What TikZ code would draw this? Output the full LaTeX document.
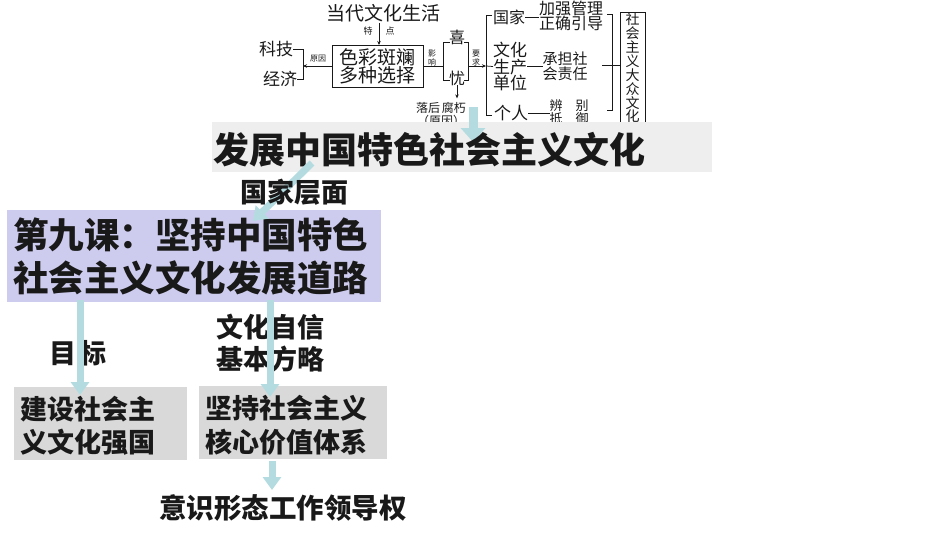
\documentclass[tikz,border=0pt]{standalone}
\usepackage{fontspec}
\newfontfamily\cjk{Noto Sans CJK SC}
\usetikzlibrary{arrows.meta,calc}
\definecolor{arrowc}{RGB}{180,220,224}
\definecolor{lav}{RGB}{206,204,238}
\definecolor{bang}{RGB}{238,238,238}
\definecolor{boxg}{RGB}{217,217,217}
\definecolor{ink}{RGB}{25,25,25}
\begin{document}
\begin{tikzpicture}[x=1pt,y=-1pt,
  every node/.style={inner sep=0pt,outer sep=0pt,text=ink},
  ln/.style={draw=ink,line width=0.75pt},
  lnarrow/.style={ln,-{Stealth[length=4pt,width=3.5pt]}},
  tf/.style={font=\cjk\fontsize{#1}{#1}\selectfont},
  bt/.style={font=\cjk\bfseries\fontsize{#1}{#1}\selectfont},
  carrow/.style={draw=arrowc,line width=7pt,-{Triangle[width=18pt,length=13pt]}},
]
\useasboundingbox (0,0) rectangle (950,535);

% ---------- top diagram ----------
\node[tf=19] (life) at (383,13) {当代文化生活};
\node[tf=9] (te) at (368,31) {特};
\node[tf=9] (dian) at (390,31) {点};
\node[ln,minimum width=91pt,minimum height=42pt,align=center,font=\cjk\fontsize{19}{18}\selectfont] (colour) at (377.5,66) {色彩斑斓\\多种选择};
\coordinate (ar1) at (379,23);
\draw[lnarrow] (ar1) -- (ar1 |- colour.north);

\node[tf=17] (kj) at (276,49) {科技};
\node[tf=17] (jj) at (280,79) {经济};
\coordinate (bkt) at (303,49);
\coordinate (bkb) at (303,79);
\draw[ln] (kj.east) -- (bkt) -- (bkb) -- (jj.east);
\draw[lnarrow] (colour.west) -- (colour.west -| bkt);
\node[tf=8] (yy) at (318,59) {原因};

\node[align=center,font=\cjk\fontsize{8}{9}\selectfont] (yx) at (432,58) {影\\响};
\coordinate (xl) at (443,42);
\draw[ln] (colour.east) -- (colour.east -| xl);
\node[tf=16] (xi) at (457,37) {喜};
\node[tf=16] (you) at (457,78) {忧};
\draw[ln] (450,42) -- (xl) -- (443,80) -- (450,80);
\draw[ln] (464,42) -- (468,42) -- (468,80) -- (464,80);
\node[align=center,font=\cjk\fontsize{8}{9}\selectfont] (yq) at (476,58) {要\\求};
\coordinate (yqs) at (468,66);
\coordinate (yqe) at (486,66);
\draw[lnarrow] (yqs) -- (yqe);
\draw[ln] (492,15) -- (486,15) -- (486,115) -- (492,115);

\node[tf=16] (gj) at (509,17) {国家};
\node[align=center,font=\cjk\fontsize{17}{16.5}\selectfont] (dw) at (510,66.5) {文化\\生产\\单位};
\node[tf=17] (gr) at (511,113) {个人};
\draw[ln] (yqe) -- (dw.west);
\node[align=center,font=\cjk\fontsize{16}{15}\selectfont] (jq) at (571,15.5) {加强管理\\正确引导};
\draw[ln] (gj.east) -- (jq.west |- gj.east);
\node[align=center,font=\cjk\fontsize{15}{13}\selectfont] (cd) at (565,66) {承担社\\会责任};
\draw[ln] (dw.east) -- (cd.west |- dw.east);
\node[align=center,font=\cjk\fontsize{13}{11.5}\selectfont] (bb) at (569,112.5) {辨\quad 别\\抵\quad 御};
\draw[ln] (gr.east) -- (bb.west |- gr.east);
\draw[ln] (607,14) -- (612,14) -- (612,110) -- (607,110);
\node[ln,minimum width=25pt,minimum height=112pt,align=center,font=\cjk\fontsize{14}{13.9}\selectfont] (sz) at (632.5,68) {社\\会\\主\\义\\大\\众\\文\\化};
\coordinate (ml) at (602,65);
\draw[ln] (ml) -- (ml -| sz.west);
\draw[lnarrow] (you.south) -- ++(0,13);
\node[tf=12] (lh) at (441,108) {落后\,腐朽};
\node[tf=12] (yy2) at (441,121) {（原因）};

% ---------- banner ----------
\node[fill=bang,minimum width=500pt,minimum height=50pt] (ban) at (462,147) {};
\coordinate (c1) at (473,107);
\coordinate (c2) at (473,142);
\draw[draw=arrowc,line width=9pt,-{Triangle[width=24pt,length=14pt]}] (c1) -- (c2);
\node[bt=36,anchor=west] (bant) at (213,150) {发展中国特色社会主义文化};

% ---------- lesson box ----------
\node[fill=lav,minimum width=374pt,minimum height=92pt] (pb) at (194,256) {};
\node[anchor=west,align=left,font=\cjk\bfseries\fontsize{35.5}{43}\selectfont] (pbt) at (13,257) {第九课：坚持中国特色\\社会主义文化发展道路};
\coordinate (d1) at (312,163);
\coordinate (d2) at (253,221);
\draw[carrow] (d1) -- (d2);
\node[bt=27] (gjcm) at (294,192) {国家层面};

% ---------- lower boxes ----------
\node[fill=boxg,minimum width=173pt,minimum height=73pt] (b1) at (100.5,423.5) {};
\node[anchor=west,align=left,font=\cjk\bfseries\fontsize{27}{33}\selectfont] (b1t) at (20,425.5) {建设社会主\\义文化强国};
\node[fill=boxg,minimum width=188pt,minimum height=73pt] (b2) at (293,422.5) {};
\node[anchor=west,align=left,font=\cjk\bfseries\fontsize{27}{34}\selectfont] (b2t) at (205,425) {坚持社会主义\\核心价值体系};

\node[bt=27] (mb) at (78,353) {目\hspace{3pt}标};
\node[align=center,font=\cjk\bfseries\fontsize{27}{32}\selectfont] (wh) at (270,343) {文化自信\\基本方略};

\coordinate (a1s) at (80,300);
\coordinate (a1e) at (80,395);
\draw[carrow] (a1s) -- (a1e);
\coordinate (a2s) at (270,300);
\coordinate (a2e) at (270,397);
\draw[carrow] (a2s) -- (a2e);
\coordinate (a3s) at (272,461);
\coordinate (a3e) at (272,490);
\draw[carrow] (a3s) -- (a3e);
\node[bt=27.5] (ys) at (283,508) {意识形态工作领导权};
\end{tikzpicture}
\end{document}
